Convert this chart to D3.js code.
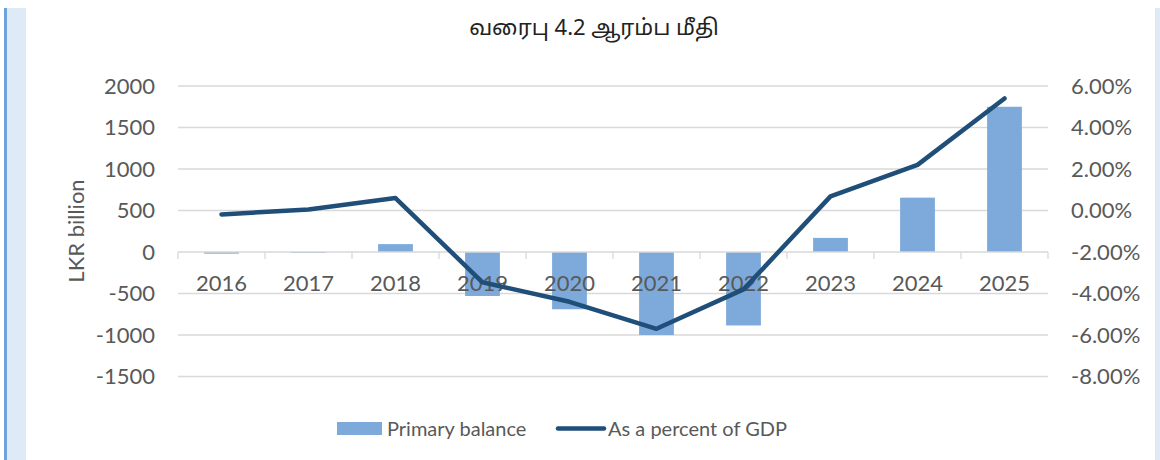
<!DOCTYPE html>
<html>
<head>
    <meta charset="utf-8">
    <title>Primary balance</title>
    <script src="https://d3js.org/d3.v7.min.js"></script>
    <style>
        body { margin: 0; background: #fff; }
        svg text { font-family: Lato, "Open Sans", sans-serif; fill: #595959; }
        .grid line { stroke: #d9d9d9; stroke-width: 1.3; }
    </style>
</head>
<body>
    <script>
        // chart data
        var years = ["2016", "2017", "2018", "2019", "2020", "2021", "2022", "2023", "2024", "2025"];
        var primaryBalance = [-20, -5, 95, -530, -690, -1000, -885, 170, 655, 1750];
        var pctGDP = [-0.0019, 0.0005, 0.006, -0.0346, -0.044, -0.057, -0.038, 0.0068, 0.022, 0.054];
        var leftTicks = [-1500, -1000, -500, 0, 500, 1000, 1500, 2000];
        var rightTicks = [-0.08, -0.06, -0.04, -0.02, 0, 0.02, 0.04, 0.06];

        var width = 1160, height = 460;
        // plot area (note: "top" is reserved on window, so use other names)
        var plotL = 178, plotR = 1048, plotT = 86, plotB = 376.5;

        // plain hyphen for negatives, like the source
        var locale = d3.formatLocale({ decimal: ".", thousands: ",", grouping: [3], currency: ["", ""], minus: "-" });

        var svg = d3.select("body").append("svg")
            .attr("width", width)
            .attr("height", height);

        // side bands of the page
        svg.append("rect").attr("x", 7).attr("y", 8).attr("width", 19).attr("height", height - 8).attr("fill", "#deebf7");
        svg.append("rect").attr("x", 4).attr("y", 8).attr("width", 3).attr("height", height - 8).attr("fill", "#6fa3dc");
        svg.append("rect").attr("x", 1155).attr("y", 8).attr("width", 5).attr("height", height - 8).attr("fill", "#deebf7");

        var x = d3.scaleBand().domain(years).range([plotL, plotR]).paddingInner(0.6).paddingOuter(0.3);
        var xb = d3.scaleBand().domain(years).range([plotL, plotR]);
        var y = d3.scaleLinear().domain([-1500, 2000]).range([plotB, plotT]);
        var y2 = d3.scaleLinear().domain([-0.08, 0.06]).range([plotB, plotT]);

        // title
        svg.append("text")
            .attr("x", 594).attr("y", 35)
            .attr("text-anchor", "middle")
            .style("font-family", "'Noto Sans Tamil', 'Noto Sans', sans-serif")
            .style("font-size", "22px")
            .style("fill", "#222")
            .text("வரைபு 4.2 ஆரம்ப மீதி");

        // gridlines
        svg.append("g").attr("class", "grid")
            .selectAll("line").data(leftTicks.filter(d => d !== 0)).enter().append("line")
            .attr("x1", plotL).attr("x2", plotR)
            .attr("y1", d => y(d)).attr("y2", d => y(d));

        // left axis labels
        svg.append("g")
            .attr("transform", "translate(" + plotL + ",0)")
            .call(d3.axisLeft(y).tickValues(leftTicks).tickSize(0).tickPadding(23).tickFormat(locale.format("d")))
            .call(g => g.select(".domain").remove())
            .selectAll("text").style("font-size", "22px").style("font-family", "Lato, sans-serif").attr("fill", "#595959");

        // right axis labels
        svg.append("g")
            .attr("transform", "translate(" + plotR + ",0)")
            .call(d3.axisRight(y2).tickValues(rightTicks).tickSize(0).tickPadding(23).tickFormat(locale.format(".2%")))
            .call(g => g.select(".domain").remove())
            .selectAll("text").style("font-size", "22px").style("font-family", "Lato, sans-serif").attr("fill", "#595959");

        // y axis title
        svg.append("text")
            .attr("transform", "translate(84,231) rotate(-90)")
            .attr("text-anchor", "middle")
            .style("font-size", "22px")
            .text("LKR billion");

        // bars
        svg.append("g").selectAll("rect").data(years).enter().append("rect")
            .attr("x", d => x(d))
            .attr("width", x.bandwidth())
            .attr("y", (d, i) => y(Math.max(0, primaryBalance[i])))
            .attr("height", (d, i) => Math.max(1, Math.abs(y(primaryBalance[i]) - y(0))))
            .attr("fill", "#7eaadb");

        // zero axis with category ticks
        var zg = svg.append("g").attr("transform", "translate(0," + y(0) + ")");
        zg.append("line").attr("x1", plotL).attr("x2", plotR).attr("stroke", "#d9d9d9").attr("stroke-width", 1.3);
        zg.selectAll(".tk").data(d3.range(years.length + 1)).enter().append("line")
            .attr("x1", i => plotL + i * xb.step()).attr("x2", i => plotL + i * xb.step())
            .attr("y1", 0).attr("y2", 7)
            .attr("stroke", "#d9d9d9").attr("stroke-width", 1.3);

        // category labels
        svg.append("g").selectAll("text").data(years).enter().append("text")
            .attr("x", d => xb(d) + xb.bandwidth() / 2)
            .attr("y", 291)
            .attr("text-anchor", "middle")
            .style("font-size", "22px")
            .text(d => d);

        // line series
        var line = d3.line()
            .x((d, i) => xb(years[i]) + xb.bandwidth() / 2)
            .y(d => y2(d));

        svg.append("path")
            .datum(pctGDP)
            .attr("d", line)
            .attr("fill", "none")
            .attr("stroke", "#1f4e79")
            .attr("stroke-width", 4.5)
            .attr("stroke-linejoin", "round")
            .attr("stroke-linecap", "round");

        // legend
        var lg = svg.append("g");
        lg.append("rect").attr("x", 337).attr("y", 422).attr("width", 45).attr("height", 13).attr("fill", "#7eaadb");
        lg.append("text").attr("x", 387).attr("y", 436).style("font-size", "20px").text("Primary balance");
        lg.append("line").attr("x1", 558).attr("x2", 604).attr("y1", 428.5).attr("y2", 428.5)
            .attr("stroke", "#1f4e79").attr("stroke-width", 4.5).attr("stroke-linecap", "round");
        lg.append("text").attr("x", 608).attr("y", 436).style("font-size", "20px").text("As a percent of GDP");
    </script>
</body>
</html>
